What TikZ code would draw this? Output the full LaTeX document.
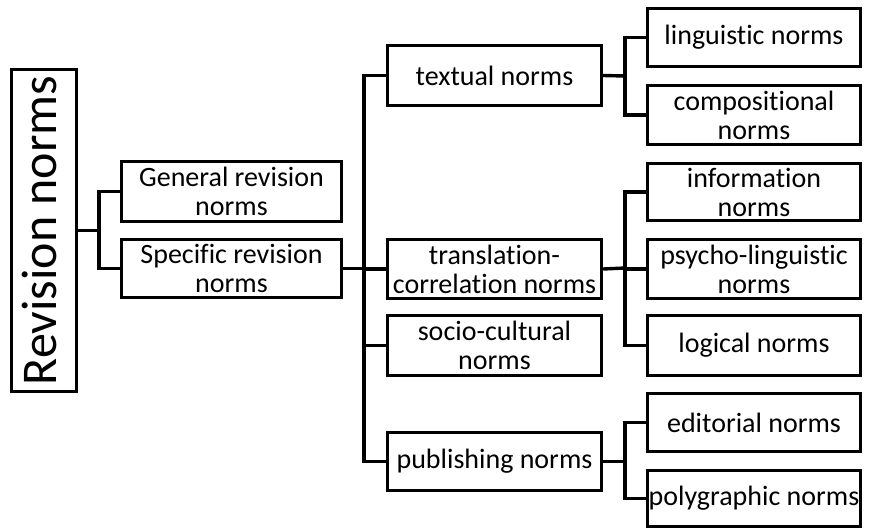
\documentclass[tikz,border=0pt]{standalone}
\usepackage{fontspec}
\setmainfont[Ligatures={NoCommon}]{Carlito}
\begin{document}
\begin{tikzpicture}[x=1pt,y=-1pt,
  box/.style={draw, line width=3.4pt, align=center, inner sep=0pt,
    font=\fontsize{28}{29}\selectfont},
  mid/.style={box, minimum width=214pt},
  leaf/.style={box, minimum width=213pt},
  link/.style={line width=3.4pt}]
\useasboundingbox (0,0) rectangle (877,530);
% root
\node[draw, line width=3.4pt, minimum width=65pt, minimum height=322pt, inner sep=0pt] (root) at (44,230.5) {};
\node[rotate=90, anchor=base, font=\fontsize{50}{52}\selectfont, inner sep=0pt] (roottext) at (56,230.5) {Revision norms};
% level 1
\node[box, minimum width=220pt, minimum height=60pt] (general) at (231.5,191.5) {General revision\\norms};
\node[box, minimum width=220pt, minimum height=58pt] (specific) at (231.5,268.5) {Specific revision\\norms};
% level 2
\node[mid, minimum height=60pt] (textual) at (494.5,75.5) {textual norms};
\node[mid, minimum height=59pt] (transl) at (494.5,269) {translation-\\correlation norms};
\node[mid, minimum height=60pt] (socio) at (494.5,345.5) {socio-cultural\\norms};
\node[mid, minimum height=58pt] (publ) at (494.5,461.5) {publishing norms};
% level 3
\node[leaf, minimum height=58pt] (ling) at (754,37.5) {linguistic norms};
\node[leaf, minimum height=59pt] (comp) at (754,115) {compositional\\norms};
\node[leaf, minimum height=57pt] (info) at (754,192) {information\\norms};
\node[leaf, minimum height=59pt] (psych) at (754,269) {psycho-linguistic\\norms};
\node[leaf, minimum height=60pt] (logic) at (754,345.5) {logical norms};
\node[leaf, minimum height=58pt] (edit) at (754,422.5) {editorial norms};
\node[leaf, minimum height=56pt] (poly) at (754,498.5) {polygraphic norms};
% bus coordinates
\coordinate (b0) at (99,230.5);
\coordinate (b1) at (364,268.5);
\coordinate (b2) at (625,76);
\coordinate (b3) at (625,268);
\coordinate (b4) at (625,461.5);
% connectors
\draw[link] (root.east) -- (b0);
\draw[link] (b0) |- (general.west);
\draw[link] (b0) |- (specific.west);
\draw[link] (specific.east) -- (b1);
\draw[link] (b1) |- (textual.west);
\draw[link] (b1) |- (transl.west);
\draw[link] (b1) |- (socio.west);
\draw[link] (b1) |- (publ.west);
\draw[link] (textual.east) -- (b2);
\draw[link] (b2) |- (ling.west);
\draw[link] (b2) |- (comp.west);
\draw[link] (transl.east) -- (b3);
\draw[link] (b3) |- (info.west);
\draw[link] (b3) |- (psych.west);
\draw[link] (b3) |- (logic.west);
\draw[link] (publ.east) -- (b4);
\draw[link] (b4) |- (edit.west);
\draw[link] (b4) |- (poly.west);
\end{tikzpicture}
\end{document}
